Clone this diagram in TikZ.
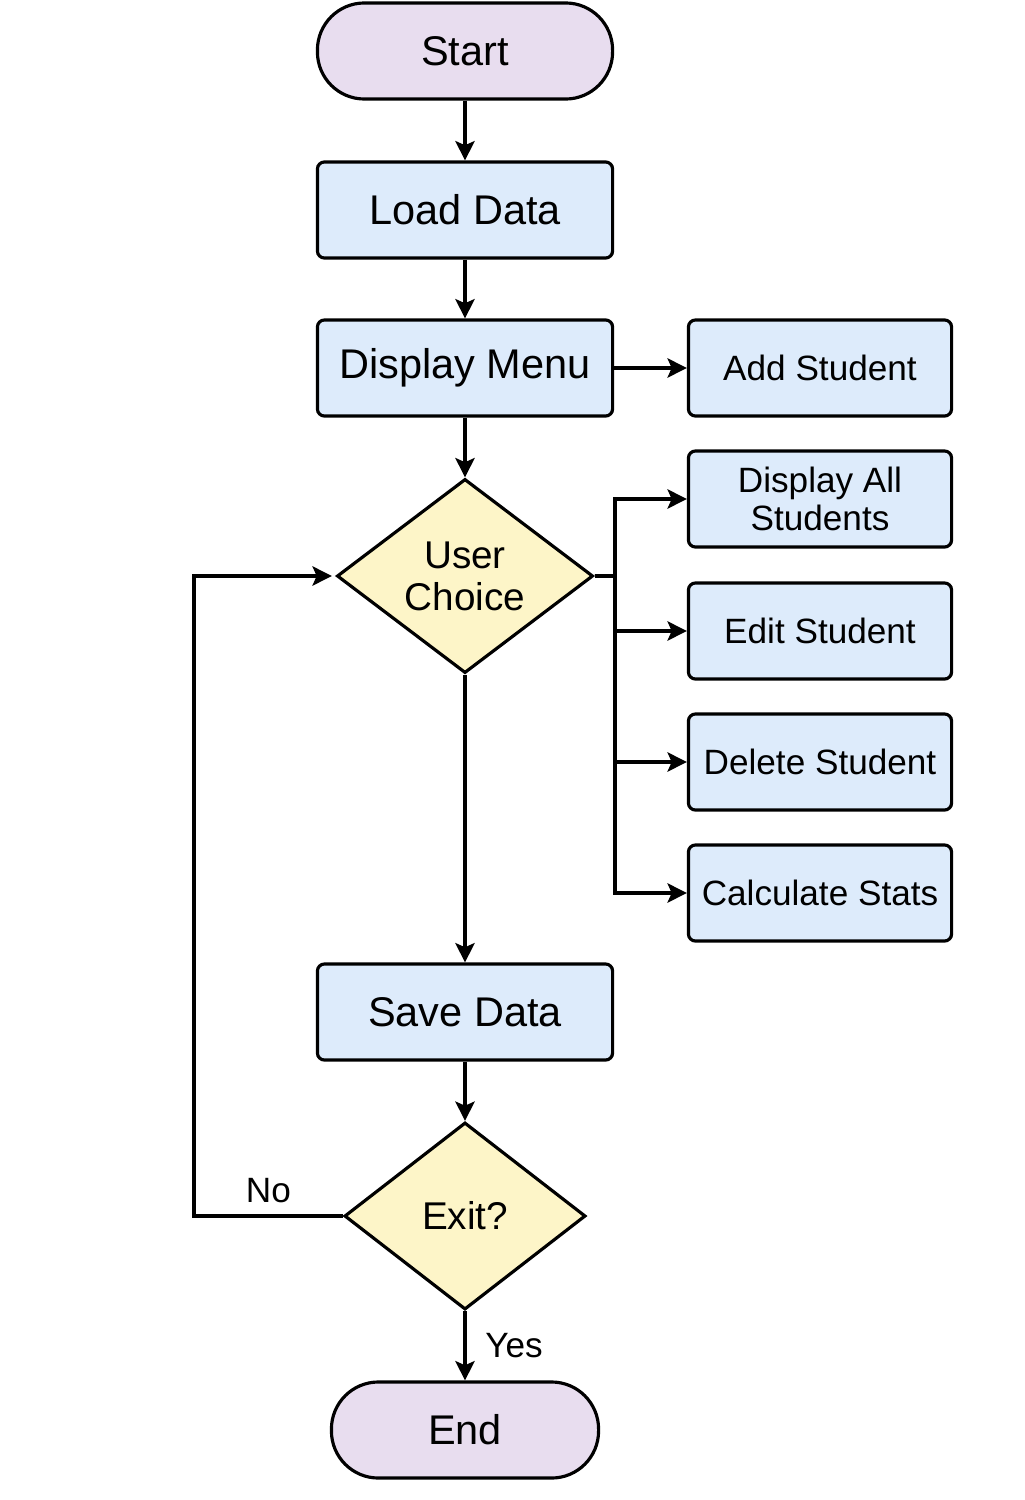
\documentclass[tikz,border=0pt]{standalone}
\usepackage{fontspec}
\setmainfont{Liberation Sans}
\usetikzlibrary{shapes.geometric,arrows.meta}

\definecolor{termfill}{HTML}{E8DDEF}
\definecolor{procfill}{HTML}{DDEBFB}
\definecolor{decfill}{HTML}{FDF5C8}

\begin{document}
\begin{tikzpicture}[x=0.01cm,y=-0.01cm,line width=0.9pt,
    >={Stealth[length=5.5pt,width=5.5pt,inset=1.2pt]},
    terminal/.style={draw,fill=termfill,rounded corners=0.47cm,minimum height=0.96cm,
        font=\fontsize{11.8}{14}\selectfont},
    process/.style={draw,fill=procfill,rounded corners=2pt,minimum width=2.95cm,minimum height=0.96cm,
        font=\fontsize{11.8}{14}\selectfont},
    action/.style={draw,fill=procfill,rounded corners=2pt,minimum width=2.63cm,minimum height=0.96cm,
        align=center,font=\fontsize{10}{11}\selectfont},
    decision/.style={draw,fill=decfill,diamond,inner sep=0pt,aspect=1.3,align=center,
        font=\fontsize{11}{12}\selectfont}]
    \useasboundingbox (0,0) rectangle (1024,1500);

    % main column
    \node[terminal,minimum width=2.95cm] (start) at (465,51) {Start};
    \node[process] (load) at (465,210) {Load Data};
    \node[process] (menu) at (465,368) {Display Menu};
    \node[decision,minimum width=2.56cm,minimum height=1.94cm] (choice) at (465,576) {User\\Choice};
    \node[process] (save) at (465,1012) {Save Data};
    \node[decision,minimum width=2.41cm,minimum height=1.87cm] (exit) at (465,1216) {Exit?};
    \node[terminal,minimum width=2.67cm] (end) at (465,1430) {End};

    % menu actions
    \node[action] (add) at (820,368) {Add Student};
    \node[action] (all) at (820,499) {Display All\\Students};
    \node[action] (edit) at (820,631) {Edit Student};
    \node[action] (delete) at (820,762) {Delete Student};
    \node[action] (stats) at (820,893) {Calculate Stats};

    \coordinate (bus) at (615,576);
    \coordinate (loop) at (194,1216);

    \draw[->] (start) -- (load);
    \draw[->] (load) -- (menu);
    \draw[->] (menu) -- (add);
    \draw[->] (menu) -- (choice);
    \foreach \b in {all,edit,delete,stats}
        \draw[->] (choice.east) -- (bus) |- (\b.west);
    \draw[->] (choice) -- (save);
    \draw[->] (save) -- (exit);
    \draw[->] (exit) -- node[right=2pt,font=\fontsize{10}{12}\selectfont] {Yes} (end);
    \draw[->,shorten >=1pt] (exit.west) -- node[above,font=\fontsize{10}{12}\selectfont] {No} (loop) |- (choice.west);
\end{tikzpicture}
\end{document}
